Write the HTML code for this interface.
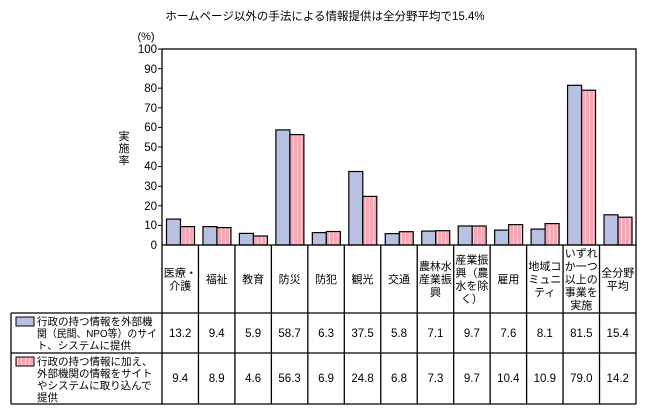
<!DOCTYPE html>
<html><head><meta charset="utf-8"><style>
body{margin:0;background:#fff}
svg{display:block;font-family:"Liberation Sans","Noto Sans CJK JP",sans-serif}
</style></head><body>
<svg width="648" height="416" viewBox="0 0 648 416" xmlns="http://www.w3.org/2000/svg">
<defs>
<pattern id="pk" width="4" height="10" patternUnits="userSpaceOnUse">
<rect width="4" height="10" fill="#f3a9b5"/><rect x="1" width="1" height="10" fill="#f8cdd4"/>
</pattern>
</defs>
<rect width="648" height="416" fill="#fff"/>
<text x="325" y="20" font-size="11.5" text-anchor="middle">ホームページ以外の手法による情報提供は全分野平均で15.4%</text>
<text x="146" y="40" font-size="11" text-anchor="middle">(%)</text>
<g font-size="11.5" text-anchor="end">
<text x="157" y="53">100</text><text x="157" y="73">90</text><text x="157" y="92">80</text><text x="157" y="112">70</text><text x="157" y="131">60</text><text x="157" y="151">50</text><text x="157" y="170">40</text><text x="157" y="190">30</text><text x="157" y="210">20</text><text x="157" y="229">10</text><text x="157" y="249">0</text>
</g>
<g stroke="#000" stroke-width="1">
<line x1="158" y1="49" x2="162" y2="49"/><line x1="158" y1="68.6" x2="162" y2="68.6"/><line x1="158" y1="88.2" x2="162" y2="88.2"/><line x1="158" y1="107.8" x2="162" y2="107.8"/><line x1="158" y1="127.4" x2="162" y2="127.4"/><line x1="158" y1="147" x2="162" y2="147"/><line x1="158" y1="166.6" x2="162" y2="166.6"/><line x1="158" y1="186.2" x2="162" y2="186.2"/><line x1="158" y1="205.8" x2="162" y2="205.8"/><line x1="158" y1="225.4" x2="162" y2="225.4"/>
</g>
<g font-size="11" text-anchor="middle"><text x="124" y="140">実</text><text x="124" y="152">施</text><text x="124" y="164">率</text></g>
<g stroke="#000" stroke-width="1.2" fill="#b9c1e3">
<rect x="166.5" y="219.1" width="14" height="25.9"/>
<rect x="202.96" y="226.6" width="14" height="18.4"/>
<rect x="239.42" y="233.4" width="14" height="11.6"/>
<rect x="275.88" y="129.9" width="14" height="115.1"/>
<rect x="312.34" y="232.6" width="14" height="12.4"/>
<rect x="348.8" y="171.5" width="14" height="73.5"/>
<rect x="385.26" y="233.6" width="14" height="11.4"/>
<rect x="421.72" y="231.1" width="14" height="13.9"/>
<rect x="458.18" y="226" width="14" height="19"/>
<rect x="494.64" y="230.1" width="14" height="14.9"/>
<rect x="531.1" y="229.1" width="14" height="15.9"/>
<rect x="567.56" y="85.3" width="14" height="159.7"/>
<rect x="604.02" y="214.8" width="14" height="30.2"/>
</g>
<g stroke="#000" stroke-width="1.2" fill="url(#pk)">
<rect x="180.5" y="226.6" width="14" height="18.4"/>
<rect x="216.96" y="227.6" width="14" height="17.4"/>
<rect x="253.42" y="236" width="14" height="9"/>
<rect x="289.88" y="134.6" width="14" height="110.4"/>
<rect x="326.34" y="231.5" width="14" height="13.5"/>
<rect x="362.8" y="196.4" width="14" height="48.6"/>
<rect x="399.26" y="231.7" width="14" height="13.3"/>
<rect x="435.72" y="230.7" width="14" height="14.3"/>
<rect x="472.18" y="226" width="14" height="19"/>
<rect x="508.64" y="224.6" width="14" height="20.4"/>
<rect x="545.1" y="223.6" width="14" height="21.4"/>
<rect x="581.56" y="90.2" width="14" height="154.8"/>
<rect x="618.02" y="217.2" width="14" height="27.8"/>
</g>
<rect x="162" y="49" width="474" height="196" fill="none" stroke="#000" stroke-width="1.3"/>
<g stroke="#000" stroke-width="1.3" fill="none">
<line x1="162" y1="245" x2="162" y2="404"/>
<line x1="11" y1="313" x2="636" y2="313"/>
<line x1="11" y1="353" x2="636" y2="353"/>
<line x1="11" y1="404" x2="636" y2="404"/>
<line x1="11" y1="313" x2="11" y2="404"/>
<line x1="636" y1="245" x2="636" y2="404"/>
<line x1="198.46" y1="245" x2="198.46" y2="404"/>
<line x1="234.92" y1="245" x2="234.92" y2="404"/>
<line x1="271.38" y1="245" x2="271.38" y2="404"/>
<line x1="307.84" y1="245" x2="307.84" y2="404"/>
<line x1="344.3" y1="245" x2="344.3" y2="404"/>
<line x1="380.76" y1="245" x2="380.76" y2="404"/>
<line x1="417.22" y1="245" x2="417.22" y2="404"/>
<line x1="453.68" y1="245" x2="453.68" y2="404"/>
<line x1="490.14" y1="245" x2="490.14" y2="404"/>
<line x1="526.6" y1="245" x2="526.6" y2="404"/>
<line x1="563.06" y1="245" x2="563.06" y2="404"/>
<line x1="599.52" y1="245" x2="599.52" y2="404"/>
</g>
<g font-size="11" text-anchor="middle">
<text x="180.23" y="276.5">医療・</text><text x="180.23" y="289.5">介護</text>
<text x="216.69" y="283">福祉</text>
<text x="253.15" y="283">教育</text>
<text x="289.61" y="283">防災</text>
<text x="326.07" y="283">防犯</text>
<text x="362.53" y="283">観光</text>
<text x="398.99" y="283">交通</text>
<text x="435.45" y="270">農林水</text><text x="435.45" y="283">産業振</text><text x="435.45" y="296">興</text>
<text x="471.91" y="263.5">産業振</text><text x="471.91" y="276.5">興（農</text><text x="471.91" y="289.5">水を除</text><text x="471.91" y="302.5">く）</text>
<text x="508.37" y="283">雇用</text>
<text x="544.83" y="270">地域コ</text><text x="544.83" y="283">ミュニ</text><text x="544.83" y="296">ティ</text>
<text x="581.29" y="257">いずれ</text><text x="581.29" y="270">か一つ</text><text x="581.29" y="283">以上の</text><text x="581.29" y="296">事業を</text><text x="581.29" y="309">実施</text>
<text x="617.75" y="276.5">全分野</text><text x="617.75" y="289.5">平均</text>
</g>
<g font-size="11.5" text-anchor="middle">
<text x="180.23" y="337">13.2</text><text x="216.69" y="337">9.4</text><text x="253.15" y="337">5.9</text><text x="289.61" y="337">58.7</text><text x="326.07" y="337">6.3</text><text x="362.53" y="337">37.5</text><text x="398.99" y="337">5.8</text><text x="435.45" y="337">7.1</text><text x="471.91" y="337">9.7</text><text x="508.37" y="337">7.6</text><text x="544.83" y="337">8.1</text><text x="581.29" y="337">81.5</text><text x="617.75" y="337">15.4</text>
<text x="180.23" y="382">9.4</text><text x="216.69" y="382">8.9</text><text x="253.15" y="382">4.6</text><text x="289.61" y="382">56.3</text><text x="326.07" y="382">6.9</text><text x="362.53" y="382">24.8</text><text x="398.99" y="382">6.8</text><text x="435.45" y="382">7.3</text><text x="471.91" y="382">9.7</text><text x="508.37" y="382">10.4</text><text x="544.83" y="382">10.9</text><text x="581.29" y="382">79.0</text><text x="617.75" y="382">14.2</text>
</g>
<rect x="16" y="317" width="18" height="9" fill="#b9c1e3" stroke="#000" stroke-width="1"/>
<rect x="16" y="357" width="18" height="9" fill="url(#pk)" stroke="#000" stroke-width="1"/>
<g font-size="10.5">
<text x="37" y="325">行政の持つ情報を外部機</text>
<text x="37" y="337" textLength="120" lengthAdjust="spacingAndGlyphs">関（民間、NPO等）のサイ</text>
<text x="37" y="349">ト、システムに提供</text>
<text x="37" y="365">行政の持つ情報に加え、</text>
<text x="37" y="377">外部機関の情報をサイト</text>
<text x="37" y="389">やシステムに取り込んで</text>
<text x="37" y="401">提供</text>
</g>
</svg>
</body></html>
